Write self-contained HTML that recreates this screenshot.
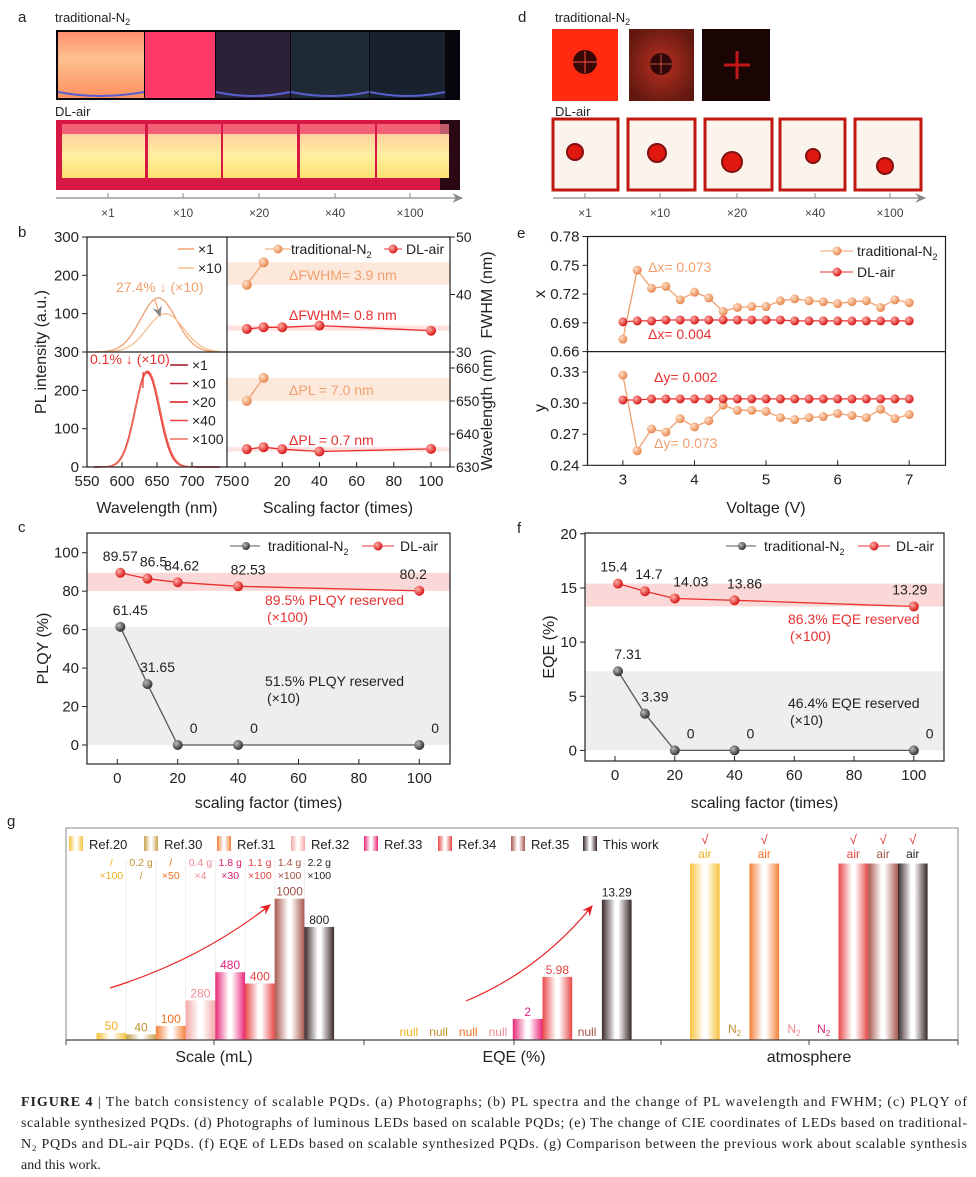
<!DOCTYPE html>
<html><head><meta charset="utf-8">
<style>
html,body{margin:0;padding:0;background:#fff;}
svg{display:block;font-family:"Liberation Sans",sans-serif;}
.cap{font-family:"Liberation Serif",serif;font-size:14px;fill:#222;}
</style></head>
<body>
<svg id="fig" width="976" height="1177" viewBox="0 0 976 1177" xmlns="http://www.w3.org/2000/svg">
<defs>
  <radialGradient id="gOr" cx="35%" cy="35%" r="65%"><stop offset="0" stop-color="#ffe0c8"/><stop offset="1" stop-color="#e88850"/></radialGradient>
  <radialGradient id="gRd" cx="35%" cy="35%" r="65%"><stop offset="0" stop-color="#ffb0a8"/><stop offset="1" stop-color="#d81818"/></radialGradient>
  <radialGradient id="gGy" cx="35%" cy="35%" r="65%"><stop offset="0" stop-color="#bbb"/><stop offset="1" stop-color="#333"/></radialGradient>
  <linearGradient id="vialY" x1="0" y1="0" x2="0" y2="1"><stop offset="0" stop-color="#ffd0a0"/><stop offset="0.5" stop-color="#fff0a0"/><stop offset="1" stop-color="#ffe070"/></linearGradient>
  <linearGradient id="vialO" x1="0" y1="0" x2="0" y2="1"><stop offset="0" stop-color="#ff9070"/><stop offset="0.4" stop-color="#ffc090"/><stop offset="1" stop-color="#ff9060"/></linearGradient>
  <radialGradient id="darkSq1" cx="50%" cy="50%" r="60%"><stop offset="0" stop-color="#b83020"/><stop offset="1" stop-color="#601810"/></radialGradient>
  <marker id="arrG" markerWidth="10" markerHeight="10" refX="8" refY="5" orient="auto"><path d="M0,1 L9,5 L0,9 L3,5 Z" fill="#888"/></marker>
  <marker id="arrR" markerWidth="10" markerHeight="10" refX="8" refY="5" orient="auto"><path d="M0,1 L9,5 L0,9 L3,5 Z" fill="#e82020"/></marker>
</defs>

<g font-size="15" fill="#222">
<text x="18" y="22">a</text><text x="18" y="237">b</text><text x="18" y="532">c</text>
<text x="518" y="22">d</text><text x="517" y="238">e</text><text x="517" y="533">f</text><text x="7" y="826">g</text>
</g>

<g>
<text x="55" y="22" font-size="13" fill="#222">traditional-N<tspan font-size="9" dy="3">2</tspan></text>
<rect x="56" y="30" width="404" height="70" fill="#08060c"/>
<rect x="58" y="32" width="86" height="66" fill="url(#vialO)"/>
<rect x="145" y="32" width="70" height="66" fill="#ff3a68"/>
<rect x="216" y="32" width="74" height="66" fill="#2c2238"/>
<rect x="291" y="32" width="78" height="66" fill="#1e2a36"/>
<rect x="370" y="32" width="75" height="66" fill="#18222e"/>
<path d="M58,92 Q100,100 144,92 M216,92 Q253,100 290,92 M291,92 Q330,100 369,92 M370,92 Q408,100 445,92" stroke="#5860d0" stroke-width="2" fill="none"/>
<text x="55" y="116" font-size="13" fill="#222">DL-air</text>
<rect x="56" y="120" width="404" height="70" fill="#d81844"/>
<rect x="440" y="120" width="20" height="70" fill="#2a0814"/>
<g fill="url(#vialY)">
<rect x="62" y="134" width="83" height="44"/><rect x="148" y="134" width="73" height="44"/><rect x="223" y="134" width="74" height="44"/>
<rect x="300" y="134" width="75" height="44"/><rect x="377" y="134" width="72" height="44"/></g>
<g fill="#ff8090" opacity="0.7"><rect x="62" y="124" width="83" height="10"/><rect x="148" y="124" width="73" height="10"/><rect x="223" y="124" width="74" height="10"/><rect x="300" y="124" width="75" height="10"/><rect x="377" y="124" width="72" height="10"/></g>
<line x1="56" y1="198" x2="462" y2="198" stroke="#888" stroke-width="1.2" marker-end="url(#arrG)"/>
<g stroke="#888"><line x1="108" y1="193" x2="108" y2="198"/><line x1="183" y1="193" x2="183" y2="198"/><line x1="259" y1="193" x2="259" y2="198"/><line x1="335" y1="193" x2="335" y2="198"/><line x1="410" y1="193" x2="410" y2="198"/></g>
<g font-size="12" fill="#444" text-anchor="middle"><text x="108" y="217">×1</text><text x="183" y="217">×10</text><text x="259" y="217">×20</text><text x="335" y="217">×40</text><text x="410" y="217">×100</text></g>
</g>

<g>
<text x="555" y="22" font-size="13" fill="#222">traditional-N<tspan font-size="9" dy="3">2</tspan></text>
<rect x="552" y="29" width="66" height="72" fill="#ff2a10"/>
<circle cx="585" cy="62" r="12" fill="#3a0808"/><path d="M573,62 H597 M585,51 V73" stroke="#ff5040" stroke-width="1"/>
<rect x="629" y="29" width="65" height="72" fill="url(#darkSq1)"/>
<circle cx="661" cy="64" r="11" fill="#300808"/><path d="M650,64 H672 M661,54 V74" stroke="#c05040" stroke-width="1"/>
<rect x="702" y="29" width="68" height="72" fill="#1a0404"/>
<path d="M724,65 H750 M737,51 V79" stroke="#c01818" stroke-width="3"/>
<text x="555" y="116" font-size="13" fill="#222">DL-air</text>
<g>
<rect x="553" y="119" width="65" height="71" fill="#fbf4ec" stroke="#c01810" stroke-width="3"/>
<rect x="628" y="119" width="67" height="71" fill="#fbf4ec" stroke="#c01810" stroke-width="3"/>
<rect x="705" y="119" width="67" height="71" fill="#fbf4ec" stroke="#c01810" stroke-width="3"/>
<rect x="780" y="119" width="65" height="71" fill="#fbf4ec" stroke="#c01810" stroke-width="3"/>
<rect x="855" y="119" width="66" height="71" fill="#fbf4ec" stroke="#c01810" stroke-width="3"/>
<g fill="#e01810" stroke="#801010" stroke-width="2"><circle cx="575" cy="152" r="8"/><circle cx="657" cy="153" r="9"/><circle cx="732" cy="162" r="10"/><circle cx="813" cy="156" r="7"/><circle cx="885" cy="166" r="8"/></g>
</g>
<line x1="553" y1="198" x2="925" y2="198" stroke="#888" stroke-width="1.2" marker-end="url(#arrG)"/>
<g stroke="#888"><line x1="585" y1="193" x2="585" y2="198"/><line x1="660" y1="193" x2="660" y2="198"/><line x1="737" y1="193" x2="737" y2="198"/><line x1="815" y1="193" x2="815" y2="198"/><line x1="890" y1="193" x2="890" y2="198"/></g>
<g font-size="12" fill="#444" text-anchor="middle"><text x="585" y="217">×1</text><text x="660" y="217">×10</text><text x="737" y="217">×20</text><text x="815" y="217">×40</text><text x="890" y="217">×100</text></g>
</g>

<g id="charts"></g>

<g>
<text class="cap" x="21" y="1106" textLength="946" lengthAdjust="spacing"><tspan font-weight="bold">FIGURE 4</tspan>  |  The batch consistency of scalable PQDs. (a) Photographs; (b) PL spectra and the change of PL wavelength and FWHM; (c) PLQY of</text>
<text class="cap" x="21" y="1127" textLength="946" lengthAdjust="spacing">scalable synthesized PQDs. (d) Photographs of luminous LEDs based on scalable PQDs; (e) The change of CIE coordinates of LEDs based on traditional-</text>
<text class="cap" x="21" y="1148" textLength="946" lengthAdjust="spacing">N₂ PQDs and DL-air PQDs. (f) EQE of LEDs based on scalable synthesized PQDs. (g) Comparison between the previous work about scalable synthesis</text>
<text class="cap" x="21" y="1169">and this work.</text>
</g>
</svg>

<script>
const scaleFactors = [1, 10, 20, 40, 100];
const tradFactors = [1, 10];
const tradFWHM = [41.7, 45.6];
const dlFWHM = [34.0, 34.3, 34.3, 34.6, 33.7];
const tradPL = [650.0, 657.0];
const dlPL = [635.4, 636.0, 635.4, 634.7, 635.5];
const topSpecPeaks = [652, 662];
const topSpecHeights = [141, 100];
const topSpecFwhm = [60, 62];
const botSpecPeaks = [636, 636, 636, 636, 637];
const botSpecHeights = [250, 248, 246, 249, 250];
const botSpecFwhm = [40, 40, 41, 40, 41];
const voltages = [3,3.2,3.4,3.6,3.8,4,4.2,4.4,4.6,4.8,5,5.2,5.4,5.6,5.8,6,6.2,6.4,6.6,6.8,7];
const tradCIEx = [0.673,0.745,0.726,0.728,0.714,0.722,0.716,0.702,0.706,0.707,0.707,0.713,0.715,0.713,0.712,0.710,0.712,0.713,0.706,0.714,0.711];
const dlCIEx = [0.691,0.692,0.692,0.693,0.693,0.693,0.693,0.693,0.693,0.693,0.693,0.693,0.692,0.692,0.692,0.692,0.692,0.692,0.692,0.692,0.692];
const tradCIEy = [0.327,0.254,0.275,0.272,0.285,0.277,0.283,0.298,0.293,0.293,0.292,0.286,0.284,0.286,0.287,0.290,0.288,0.286,0.294,0.285,0.289];
const dlCIEy = [0.303,0.303,0.304,0.304,0.304,0.304,0.304,0.304,0.304,0.304,0.304,0.304,0.304,0.304,0.304,0.304,0.304,0.304,0.304,0.304,0.304];
const tradPLQY = [61.45, 31.65, 0, 0, 0];
const dlPLQY = [89.57, 86.5, 84.62, 82.53, 80.2];
const tradEQE = [7.31, 3.39, 0, 0, 0];
const dlEQE = [15.4, 14.7, 14.03, 13.86, 13.29];
const refNames = ['Ref.20','Ref.30','Ref.31','Ref.32','Ref.33','Ref.34','Ref.35','This work'];
const refScale = [50, 40, 100, 280, 480, 400, 1000, 800];
const refEQE = [null, null, null, null, 2, 5.98, null, 13.29];
const refAtm = ['air','N2','air','N2','N2','air','air','air'];
const refMass = ['/','0.2 g','/','0.4 g','1.8 g','1.1 g','1.4 g','2.2 g'];
const refTimes = ['×100','/','×50','×4','×30','×100','×100','×100'];

const NS = 'http://www.w3.org/2000/svg';
const root = document.getElementById('charts');
function mk(tag, attrs, parent) {
  const e = document.createElementNS(NS, tag);
  for (const k in attrs) e.setAttribute(k, attrs[k]);
  (parent || root).appendChild(e);
  return e;
}
function txt(x, y, s, attrs, parent) {
  const e = mk('text', Object.assign({x: x, y: y}, attrs || {}), parent);
  e.textContent = s;
  return e;
}
const OR = '#f0a070', RD = '#e83030', GY = '#555';

const bxL = w => 87 + (w - 550) * 0.7;
const byTop = v => 352 - v * 115 / 300;
const byBot = v => 467 - v * 115 / 300;
const bxR = s => 245 + s * 1.86;
const byF = f => 352 - (f - 30) * 5.75;
const byP = p => 467 - (p - 630) * 3.3;
const ex = v => 622.9 + (v - 3) * 71.575;
const eyX = v => 351.6 - (v - 0.66) * 959;
const eyY = v => 465.3 - (v - 0.24) * 1037;
const cx = s => 117.3 + s * 3.02;
const cy = v => 745 - v * 1.923;
const fx = s => 615 + s * 2.988;
const fy = v => 750.4 - v * 10.83;

function series(xs, ys, X, Y, color, grad, name, r) {
  const g = mk('g', {});
  
  
  let d = '';
  xs.forEach((x, i) => { d += (i ? 'L' : 'M') + X(x).toFixed(1) + ',' + Y(ys[i]).toFixed(1); });
  const p = mk('path', {d: d, fill: 'none', stroke: color, 'stroke-width': 1.3}, g);
  
  
  xs.forEach((x, i) => {
    const c = mk('circle', {cx: X(x), cy: Y(ys[i]), r: r || 5, fill: 'url(#' + grad + ')'}, g);
    
    
  });
}
function gauss(peak, h, fw, X, Y, color, name) {
  const s = fw / 2.3548;
  let d = '';
  for (let w = 560; w <= 740; w += 2) {
    const v = h * Math.exp(-((w - peak) ** 2) / (2 * s * s));
    d += (w === 560 ? 'M' : 'L') + X(w).toFixed(1) + ',' + Y(v).toFixed(1);
  }
  const p = mk('path', {d: d, fill: 'none', stroke: color, 'stroke-width': 1.3});
  
  
}
function yTicks(vals, Y, x, left, labelFn, fs) {
  vals.forEach(v => {
    mk('line', {x1: left ? x : x - 5, x2: left ? x + 5 : x, y1: Y(v), y2: Y(v), stroke: '#222'});
    if (labelFn) {
      const t = txt(left ? x + 6 : x - 8, Y(v) + 5, labelFn(v), {'font-size': fs || 15, fill: '#222', 'text-anchor': left ? 'start' : 'end'});
      
      
    }
  });
}
function xTicks(vals, X, y, labelFn, fs) {
  vals.forEach(v => {
    mk('line', {x1: X(v), x2: X(v), y1: y, y2: y - 5, stroke: '#222'});
    const t = txt(X(v), y + 19, labelFn(v), {'font-size': fs || 15, fill: '#222', 'text-anchor': 'middle'});
    
    
  });
}

// Panel b
mk('rect', {x: 227, y: byF(45.6), width: 223, height: byF(41.7) - byF(45.6), fill: '#fde8dc'});
mk('rect', {x: 227, y: byF(34.6), width: 223, height: byF(33.7) - byF(34.6), fill: '#fde0e0'});
mk('rect', {x: 227, y: byP(657), width: 223, height: byP(650) - byP(657), fill: '#fde8dc'});
mk('rect', {x: 227, y: byP(636), width: 223, height: byP(634.7) - byP(636), fill: '#fde0e0'});
const tc = ['#f0a070', '#f5c090'];
topSpecPeaks.forEach((p, i) => gauss(p, topSpecHeights[i], topSpecFwhm[i], bxL, byTop, tc[i], 'spectrum-trad-' + i));
const bc = ['#a01020', '#c02838', '#d81818', '#f04040', '#f07060'];
botSpecPeaks.forEach((p, i) => gauss(p, botSpecHeights[i], botSpecFwhm[i], bxL, byBot, bc[i], 'spectrum-dl-' + i));
mk('path', {d: 'M87,237 H450 V467 H87 Z M87,352 H450 M227,237 V467', fill: 'none', stroke: '#222', 'stroke-width': 1.2});
yTicks([0,100,200,300], byTop, 87, false, v => v === 0 ? '' : String(v));
yTicks([0,100,200,300], byBot, 87, false, v => String(v));
xTicks([550,600,650,700,750], bxL, 467, v => String(v));
xTicks([0,20,40,60,80,100], bxR, 467, v => String(v));
yTicks([30,40,50], byF, 450, true, v => String(v), 14);
yTicks([630,640,650,660], byP, 450, true, v => String(v), 14);
series(tradFactors, tradFWHM, bxR, byF, OR, 'gOr', 'series-trad-fwhm');
series(scaleFactors, dlFWHM, bxR, byF, RD, 'gRd', 'series-dl-fwhm');
series(tradFactors, tradPL, bxR, byP, OR, 'gOr', 'series-trad-pl');
series(scaleFactors, dlPL, bxR, byP, RD, 'gRd', 'series-dl-pl');
txt(116, 292, '27.4% ↓ (×10)', {'font-size': 14, fill: OR});
mk('path', {d: 'M155,300 L160,316', stroke: OR, 'stroke-width': 1.2, 'marker-end': 'url(#arrG)'});
txt(90, 364, '0.1% ↓ (×10)', {'font-size': 14, fill: RD});
mk('path', {d: 'M143,372 V388', stroke: RD, 'stroke-width': 1.2});
txt(289, 280, 'ΔFWHM= 3.9 nm', {'font-size': 14, fill: OR});
txt(289, 320, 'ΔFWHM= 0.8 nm', {'font-size': 14, fill: RD});
txt(289, 395, 'ΔPL = 7.0 nm', {'font-size': 14, fill: OR});
txt(289, 445, 'ΔPL = 0.7 nm', {'font-size': 14, fill: RD});
[['×1', tc[0], 249], ['×10', tc[1], 268]].forEach(l => {
  mk('line', {x1: 178, x2: 194, y1: l[2], y2: l[2], stroke: l[1], 'stroke-width': 1.5});
  txt(198, l[2] + 5, l[0], {'font-size': 14, fill: '#222'});
});
['×1','×10','×20','×40','×100'].forEach((s, i) => {
  const y = 365 + i * 18.5;
  mk('line', {x1: 170, x2: 188, y1: y, y2: y, stroke: bc[i], 'stroke-width': 1.5});
  txt(192, y + 5, s, {'font-size': 14, fill: '#222'});
});
mk('line', {x1: 265, x2: 291, y1: 249, y2: 249, stroke: OR}); mk('circle', {cx: 278, cy: 249, r: 4.5, fill: 'url(#gOr)'});
const lt = txt(291, 254, 'traditional-N', {'font-size': 14, fill: '#222'});
const sb = mk('tspan', {'font-size': 9, dy: 4}, lt); sb.textContent = '2';
mk('line', {x1: 384, x2: 402, y1: 249, y2: 249, stroke: RD}); mk('circle', {cx: 393, cy: 249, r: 4.5, fill: 'url(#gRd)'});
txt(406, 254, 'DL-air', {'font-size': 14, fill: '#222'});
txt(46, 352, 'PL intensity (a.u.)', {'font-size': 16, fill: '#222', 'text-anchor': 'middle', transform: 'rotate(-90 46 352)'});
txt(492, 295, 'FWHM (nm)', {'font-size': 16, fill: '#222', 'text-anchor': 'middle', transform: 'rotate(-90 492 295)'});
txt(492, 410, 'Wavelength (nm)', {'font-size': 16, fill: '#222', 'text-anchor': 'middle', transform: 'rotate(-90 492 410)'});
txt(157, 513, 'Wavelength (nm)', {'font-size': 16, fill: '#222', 'text-anchor': 'middle'});
txt(338, 513, 'Scaling factor (times)', {'font-size': 16, fill: '#222', 'text-anchor': 'middle'});

// Panel e
mk('path', {d: 'M587.5,236.5 H945.5 V465.3 H587.5 Z M587.5,351.6 H945.5', fill: 'none', stroke: '#222', 'stroke-width': 1.2});
yTicks([0.66,0.69,0.72,0.75,0.78], eyX, 587.5, false, v => v.toFixed(2));
yTicks([0.24,0.27,0.30,0.33], eyY, 587.5, false, v => v.toFixed(2));
xTicks([3,4,5,6,7], ex, 465.3, v => String(v));
series(voltages, tradCIEx, ex, eyX, OR, 'gOr', 'series-trad-cie-x', 4.5);
series(voltages, dlCIEx, ex, eyX, RD, 'gRd', 'series-dl-cie-x', 4.5);
series(voltages, tradCIEy, ex, eyY, OR, 'gOr', 'series-trad-cie-y', 4.5);
series(voltages, dlCIEy, ex, eyY, RD, 'gRd', 'series-dl-cie-y', 4.5);
txt(648, 272, 'Δx= 0.073', {'font-size': 14, fill: OR});
txt(648, 339, 'Δx= 0.004', {'font-size': 14, fill: RD});
txt(654, 382, 'Δy= 0.002', {'font-size': 14, fill: RD});
txt(654, 448, 'Δy= 0.073', {'font-size': 14, fill: OR});
mk('line', {x1: 820, x2: 853, y1: 251, y2: 251, stroke: OR}); mk('circle', {cx: 837, cy: 251, r: 4.5, fill: 'url(#gOr)'});
const le = txt(857, 256, 'traditional-N', {'font-size': 14, fill: '#222'});
const sb2 = mk('tspan', {'font-size': 9, dy: 4}, le); sb2.textContent = '2';
mk('line', {x1: 820, x2: 853, y1: 272, y2: 272, stroke: RD}); mk('circle', {cx: 837, cy: 272, r: 4.5, fill: 'url(#gRd)'});
txt(857, 277, 'DL-air', {'font-size': 14, fill: '#222'});
txt(545, 294, 'x', {'font-size': 16, fill: '#222', 'text-anchor': 'middle', transform: 'rotate(-90 545 294)'});
txt(545, 408, 'y', {'font-size': 16, fill: '#222', 'text-anchor': 'middle', transform: 'rotate(-90 545 408)'});
txt(766, 513, 'Voltage (V)', {'font-size': 16, fill: '#222', 'text-anchor': 'middle'});

// Panels c & f
function lowerPanel(X, Y, box, trad, dl, yt, ylab, ylabX, annot, legX, lblOff) {
  mk('rect', {x: box[0], y: Y(Math.max(...dl)), width: box[2] - box[0], height: Y(Math.min(...dl)) - Y(Math.max(...dl)), fill: '#fbd8d8'});
  mk('rect', {x: box[0], y: Y(Math.max(...trad)), width: box[2] - box[0], height: Y(0) - Y(Math.max(...trad)), fill: '#eeeeee'});
  mk('rect', {x: box[0], y: box[1], width: box[2] - box[0], height: box[3] - box[1], fill: 'none', stroke: '#222', 'stroke-width': 1.2});
  yTicks(yt, Y, box[0], false, v => String(v));
  xTicks([0,20,40,60,80,100], X, box[3], v => String(v));
  series(scaleFactors, trad, X, Y, GY, 'gGy', 'series-trad-' + ylab);
  series(scaleFactors, dl, X, Y, RD, 'gRd', 'series-dl-' + ylab);
  scaleFactors.forEach((s, i) => {
    const a = txt(X(s) + lblOff[i], Y(dl[i]) - 12, String(dl[i]), {'font-size': 14, fill: '#222', 'text-anchor': 'middle'});
    
    
    const b = txt(X(s) + (i < 2 ? 10 : 12), Y(trad[i]) - 12, String(trad[i]), {'font-size': 14, fill: '#222', 'text-anchor': i < 2 ? 'middle' : 'start'});
    
    
  });
  txt(annot[0], annot[1], annot[2], {'font-size': 14, fill: RD});
  txt(annot[0] + 2, annot[1] + 17, '(×100)', {'font-size': 14, fill: RD});
  txt(annot[0], annot[3], annot[4], {'font-size': 14, fill: '#222'});
  txt(annot[0] + 2, annot[3] + 17, '(×10)', {'font-size': 14, fill: '#222'});
  mk('line', {x1: legX, x2: legX + 30, y1: 546, y2: 546, stroke: GY}); mk('circle', {cx: legX + 16, cy: 546, r: 4, fill: 'url(#gGy)'});
  const l = txt(legX + 38, 551, 'traditional-N', {'font-size': 14, fill: '#222'});
  const s2 = mk('tspan', {'font-size': 9, dy: 4}, l); s2.textContent = '2';
  mk('line', {x1: legX + 132, x2: legX + 164, y1: 546, y2: 546, stroke: RD}); mk('circle', {cx: legX + 148, cy: 546, r: 4.5, fill: 'url(#gRd)'});
  txt(legX + 170, 551, 'DL-air', {'font-size': 14, fill: '#222'});
  txt(ylabX, (box[1] + box[3]) / 2, ylab, {'font-size': 16, fill: '#222', 'text-anchor': 'middle', transform: 'rotate(-90 ' + ylabX + ' ' + (box[1] + box[3]) / 2 + ')'});
  txt((box[0] + box[2]) / 2, 808, 'scaling factor (times)', {'font-size': 16, fill: '#222', 'text-anchor': 'middle'});
}
lowerPanel(cx, cy, [87, 533, 450, 764], tradPLQY, dlPLQY, [0,20,40,60,80,100], 'PLQY (%)', 48,
  [265, 605, '89.5% PLQY reserved', 686, '51.5% PLQY reserved'], 230, [0, 6, 4, 10, -6]);
lowerPanel(fx, fy, [585, 533, 944, 761], tradEQE, dlEQE, [0,5,10,15,20], 'EQE (%)', 554,
  [788, 624, '86.3% EQE reserved', 708, '46.4% EQE reserved'], 726, [-4, 4, 16, 10, -4]);

// Panel g
const refCol = ['#f7c23a','#c9a04a','#f5823a','#f4a8a8','#e8287a','#e84848','#a8584e','#3a2828'];
const refTxt = ['#f0b020','#c09030','#f07020','#f08890','#e0207a','#e84040','#a05040','#222'];
const defs = document.querySelector('defs');
refCol.forEach((c, i) => {
  const lg = mk('linearGradient', {id: 'bar' + i, x1: 0, y1: 0, x2: 1, y2: 0}, defs);
  mk('stop', {offset: 0, 'stop-color': c}, lg);
  mk('stop', {offset: 0.45, 'stop-color': '#fff'}, lg);
  mk('stop', {offset: 0.55, 'stop-color': '#fff'}, lg);
  mk('stop', {offset: 1, 'stop-color': c}, lg);
});
const gBase = 1040, bw = 29.7;
const gScaleY = v => gBase - v * 0.1413;
const gEqeY = v => gBase - v * 10.56;
const grpStart = [96.5, 394, 690];
mk('rect', {x: 66, y: 828, width: 892, height: 212, fill: 'none', stroke: '#888', 'stroke-width': 1});
for (let i = 1; i < 8; i++) mk('line', {x1: grpStart[0] + i * bw, x2: grpStart[0] + i * bw, y1: 860, y2: gBase, stroke: '#eee'});
refNames.forEach((n, i) => {
  const x0 = grpStart[0] + i * bw, xm = x0 + bw / 2;
  const b = mk('rect', {x: x0, y: gScaleY(refScale[i]), width: bw, height: gBase - gScaleY(refScale[i]), fill: 'url(#bar' + i + ')'});
  
  
  const t = txt(xm, gScaleY(refScale[i]) - 3, String(refScale[i]), {'font-size': 12, fill: refTxt[i], 'text-anchor': 'middle'});
  
  
  txt(xm, 866, refMass[i], {'font-size': 10.5, fill: refTxt[i], 'text-anchor': 'middle'});
  txt(xm, 879, refTimes[i], {'font-size': 10.5, fill: refTxt[i], 'text-anchor': 'middle'});
  const e0 = grpStart[1] + i * bw;
  if (refEQE[i] === null) {
    txt(e0 + bw / 2, 1036, 'null', {'font-size': 12, fill: refTxt[i], 'text-anchor': 'middle'});
  } else {
    const eb = mk('rect', {x: e0, y: gEqeY(refEQE[i]), width: bw, height: gBase - gEqeY(refEQE[i]), fill: 'url(#bar' + i + ')'});
    
    
    txt(e0 + bw / 2, gEqeY(refEQE[i]) - 3, String(refEQE[i]), {'font-size': 12, fill: refTxt[i], 'text-anchor': 'middle'});
  }
  const a0 = grpStart[2] + i * bw;
  if (refAtm[i] === 'air') {
    const ab = mk('rect', {x: a0, y: 863.5, width: bw, height: gBase - 863.5, fill: 'url(#bar' + i + ')'});
    
    
    txt(a0 + bw / 2, 844, '√', {'font-size': 13, fill: RD, 'text-anchor': 'middle'});
    txt(a0 + bw / 2, 858, 'air', {'font-size': 12, fill: refTxt[i], 'text-anchor': 'middle'});
  } else {
    const nt = txt(a0 + bw / 2, 1033, 'N', {'font-size': 12, fill: refTxt[i], 'text-anchor': 'middle'});
    const ns = mk('tspan', {'font-size': 8, dy: 3}, nt); ns.textContent = '2';
  }
  const lx = [69,144,217,291,364,438,511,583][i];
  const lp = mk('rect', {x: lx, y: 836, width: 14, height: 15, fill: 'url(#bar' + i + ')'});
  
  
  txt(lx + 20, 849, n, {'font-size': 13, fill: '#222'});
});
mk('path', {d: 'M110,988 Q200,960 270,905', fill: 'none', stroke: '#e82020', 'stroke-width': 1.2, 'marker-end': 'url(#arrR)'});
mk('path', {d: 'M466,1001 Q540,970 592,906', fill: 'none', stroke: '#e82020', 'stroke-width': 1.2, 'marker-end': 'url(#arrR)'});
mk('line', {x1: 66, x2: 958, y1: gBase, y2: gBase, stroke: '#444', 'stroke-width': 1.2});
[66, 214, 364, 514, 661, 809, 958].forEach(x => mk('line', {x1: x, x2: x, y1: gBase, y2: gBase + 5, stroke: '#444'}));
txt(214, 1062, 'Scale (mL)', {'font-size': 16, fill: '#222', 'text-anchor': 'middle'});
txt(514, 1062, 'EQE (%)', {'font-size': 16, fill: '#222', 'text-anchor': 'middle'});
txt(809, 1062, 'atmosphere', {'font-size': 16, fill: '#222', 'text-anchor': 'middle'});
</script>
</body></html>
